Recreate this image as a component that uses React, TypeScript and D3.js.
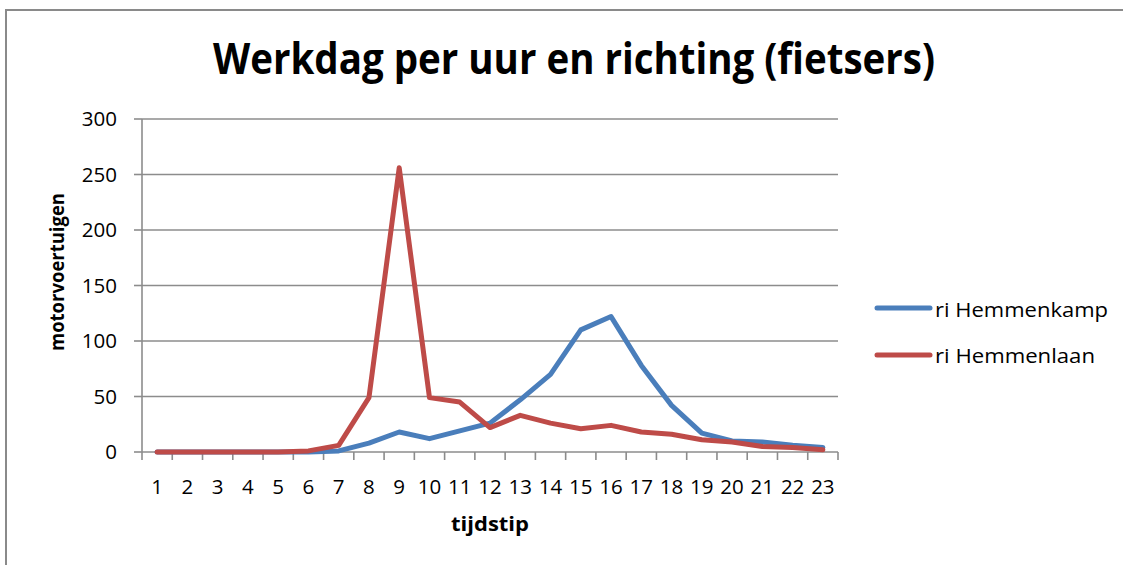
import React from "react";
import * as d3 from "d3";

const hours = ["1","2","3","4","5","6","7","8","9","10","11","12","13","14","15","16","17","18","19","20","21","22","23"];
const hemmenkamp = [0,0,0,0,0,0,1,8,18,12,19,26,47,70,110,122,78,42,17,10,9,6,4];
const hemmenlaan = [0,0,0,0,0,1,6,49,256,49,45,22,33,26,21,24,18,16,11,9,5,4,2];
const yTicks = [0,50,100,150,200,250,300];
const seriesNames = ["ri Hemmenkamp","ri Hemmenlaan"];
const seriesColors = ["#4A7EBB","#BE4B48"];
const title = "Werkdag per uur en richting (fietsers)";

export default function App() {
  const W = 1123, H = 565;
  const x0 = 142, x1 = 838, yTop = 119, yBot = 452;
  const x = d3.scaleBand<string>().domain(hours).range([x0, x1]);
  const y = d3.scaleLinear().domain([0, 300]).range([yBot, yTop]);
  const line = d3.line<number>()
    .x((_, i) => (x(hours[i]) as number) + x.bandwidth() / 2)
    .y((d) => y(d));
  const series = [hemmenkamp, hemmenlaan];
  const font = "'Open Sans', 'DejaVu Sans', sans-serif";
  const grid = "#8c8c8c";
  const boundaries = hours.map((h) => x(h) as number).concat([x1]);
  return (
    <svg width={W} height={H} style={{ position: "absolute", left: 0, top: 0, background: "#fff" }} fontFamily={font}>
      <rect x={0} y={0} width={W} height={H} fill="#fff" />
      <rect x={6} y={10} width={W + 10} height={H + 10} fill="none" stroke="#8a8a8a" strokeWidth={2} />
      <text x={574} y={74} textAnchor="middle" fontSize={43} fontWeight="bold" textLength={722} lengthAdjust="spacingAndGlyphs" fill="#000">{title}</text>
      {yTicks.map((t) => (
        <g key={t}>
          {t > 0 && <line x1={x0} x2={x1} y1={y(t)} y2={y(t)} stroke={grid} strokeWidth={1.6} />}
          <line x1={x0 - 8} x2={x0} y1={y(t)} y2={y(t)} stroke={grid} strokeWidth={1.6} />
          <text x={117} y={y(t) + 7} textAnchor="end" fontSize={20.5} fill="#000">{t}</text>
        </g>
      ))}
      <line x1={x0} x2={x0} y1={yTop} y2={yBot} stroke={grid} strokeWidth={1.6} />
      <line x1={x0} x2={x1} y1={yBot} y2={yBot} stroke={grid} strokeWidth={1.6} />
      {boundaries.map((b, i) => (
        <line key={i} x1={b} x2={b} y1={yBot} y2={yBot + 8} stroke={grid} strokeWidth={1.6} />
      ))}
      {hours.map((h) => (
        <text key={h} x={(x(h) as number) + x.bandwidth() / 2} y={494} textAnchor="middle" fontSize={20.5} fill="#000">{h}</text>
      ))}
      {series.map((s, i) => (
        <path key={i} d={line(s) as string} fill="none" stroke={seriesColors[i]} strokeWidth={5} strokeLinejoin="round" strokeLinecap="round" />
      ))}
      <text x={490} y={531} textAnchor="middle" fontSize={20} fontWeight="bold" textLength={78} lengthAdjust="spacingAndGlyphs" fill="#000">tijdstip</text>
      <text transform="translate(64,272) rotate(-90)" textAnchor="middle" fontSize={20} fontWeight="bold" textLength={158} lengthAdjust="spacingAndGlyphs" fill="#000">motorvoertuigen</text>
      {seriesNames.map((n, i) => (
        <g key={n}>
          <line x1={877} x2={930} y1={308 + i * 47} y2={308 + i * 47} stroke={seriesColors[i]} strokeWidth={5} strokeLinecap="round" />
          <text x={935} y={317 + i * 46} fontSize={20} fill="#000" textLength={i === 0 ? 173 : 160} lengthAdjust="spacingAndGlyphs">{n}</text>
        </g>
      ))}
    </svg>
  );
}
